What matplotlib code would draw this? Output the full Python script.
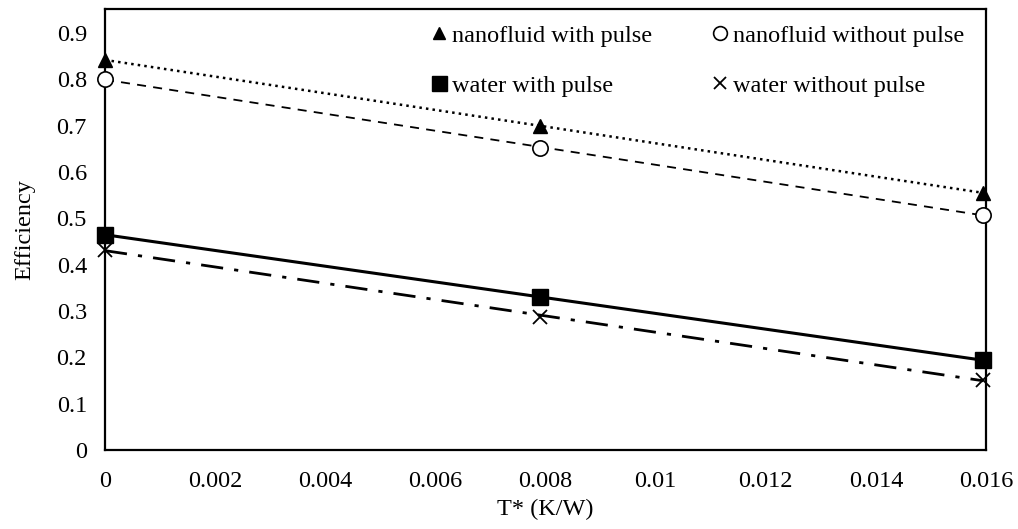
import numpy as np
import matplotlib
matplotlib.use("Agg")
import matplotlib.pyplot as plt

plt.rcParams['font.family'] = ['Liberation Serif', 'DejaVu Serif']

# dữ liệu
t_star = [0.0, 0.0079, 0.01595]
nano_pulse = [0.842, 0.700, 0.555]
nano_no_pulse = [0.800, 0.653, 0.507]
water_pulse = [0.465, 0.330, 0.194]
water_no_pulse = [0.432, 0.288, 0.151]

x_ticks = [0, 0.002, 0.004, 0.006, 0.008, 0.01, 0.012, 0.014, 0.016]
x_tick_labels = ['0', '0.002', '0.004', '0.006', '0.008', '0.01', '0.012', '0.014', '0.016']
y_ticks = [0, 0.1, 0.2, 0.3, 0.4, 0.5, 0.6, 0.7, 0.8, 0.9]
y_tick_labels = ['0', '0.1', '0.2', '0.3', '0.4', '0.5', '0.6', '0.7', '0.8', '0.9']

fs = 17.5

fig = plt.figure(figsize=(10.18, 5.29), dpi=100)
ax = fig.add_axes([0.1031, 0.1493, 0.8655, 0.8337])

series = [
    (nano_pulse, 'nanofluid with pulse', dict(marker='^', ms=10, mfc='black', mec='black'), dict(ls=':', lw=1.8)),
    (nano_no_pulse, 'nanofluid without pulse', dict(marker='o', ms=11, mfc='white', mec='black', mew=1.2), dict(ls=(0, (5, 4)), lw=1.3)),
    (water_pulse, 'water with pulse', dict(marker='s', ms=12, mfc='black', mec='black'), dict(ls='-', lw=2.2)),
    (water_no_pulse, 'water without pulse', dict(marker='x', ms=10, mec='black', mew=1.3), dict(ls=(0, (8, 4, 1.5, 4)), lw=2.0)),
]

x = np.array(t_star)
handles = []
for vals, name, mk, ln in series:
    # đường xu hướng tuyến tính
    k, b = np.polyfit(x, vals, 1)
    ax.plot(x, k * x + b, color='black', zorder=2, **ln)
    h, = ax.plot(x, vals, ls='none', label=name, zorder=3, clip_on=False, **mk)
    handles.append(h)

ax.set_xlim(0, 0.016)
ax.set_ylim(0, 0.952)
ax.set_xticks(x_ticks)
ax.set_xticklabels(x_tick_labels)
ax.set_yticks(y_ticks)
ax.set_yticklabels(y_tick_labels)
ax.tick_params(length=0, labelsize=fs)
ax.tick_params(axis='x', pad=15)
ax.tick_params(axis='y', pad=13)
for s in ax.spines.values():
    s.set_linewidth(1.6)
    s.set_color('black')

ax.set_xlabel('T* (K/W)', fontsize=fs, labelpad=5)
ax.set_ylabel('Efficiency', fontsize=fs, labelpad=15)

# thứ tự theo cột để hàng 1 là nanofluid, hàng 2 là water
order = [0, 2, 1, 3]
ax.legend([handles[i] for i in order], [handles[i].get_label() for i in order],
          loc='upper left', bbox_to_anchor=(0.346, 1.014), ncol=2, frameon=False,
          fontsize=fs, handlelength=0.6, handletextpad=0.23, columnspacing=2.5,
          labelspacing=1.15, markerscale=0.9)

fig.savefig('out.png', dpi=100)
